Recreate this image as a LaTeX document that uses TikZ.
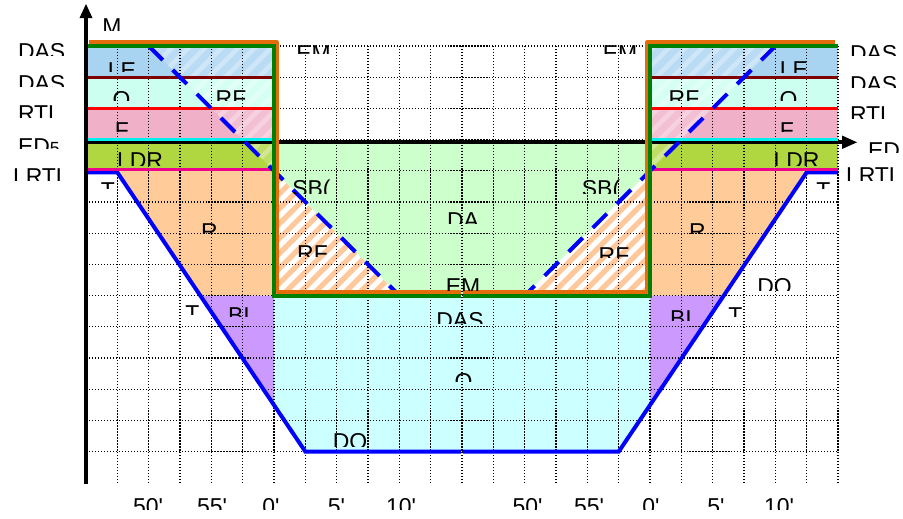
\documentclass[tikz,border=0pt]{standalone}
\usepackage{fontspec}
\setmainfont{Liberation Sans}
\usetikzlibrary{patterns,patterns.meta,arrows.meta}
\definecolor{cLE}{RGB}{168,212,242}
\definecolor{cO}{RGB}{204,255,240}
\definecolor{cF}{RGB}{240,176,200}
\definecolor{cLDR}{RGB}{176,214,64}
\definecolor{cG}{RGB}{204,255,204}
\definecolor{cR}{RGB}{255,204,153}
\definecolor{cBI}{RGB}{204,153,255}
\definecolor{cC}{RGB}{204,255,255}
\definecolor{cH}{RGB}{255,200,155}
\definecolor{lDR}{RGB}{128,0,0}
\definecolor{lCy}{RGB}{0,240,240}
\definecolor{lGr}{RGB}{0,128,0}
\definecolor{lOr}{RGB}{228,108,10}
\tikzset{
 lab/.style={font=\fontsize{19.6}{20}\selectfont, inner sep=0pt, outer sep=0pt, text=black},
 gridl/.style={black, line width=1.1pt, dash pattern=on 1pt off 1.55pt},
 hline/.style={line width=2.6pt},
 bluel/.style={blue, line width=3.4pt},
 bluedash/.style={blue, line width=3.4pt, dash pattern=on 17pt off 12pt},
 greenl/.style={lGr, line width=3.4pt},
 orangel/.style={lOr, line width=2.6pt, line join=round},
 axisl/.style={black, line width=3.4pt},
 hatch/.style={pattern={Lines[angle=45,distance=9pt,line width=4.5pt]}, pattern color=cH},
 faint/.style={pattern={Lines[angle=45,distance=10pt,line width=4pt]}, pattern color=white, opacity=0.3},
}
\newcommand\clab[6]{\begin{scope}\clip (#2-70,#3-12) rectangle (#2+70,#4);\node[lab,anchor=#5] (#1) at (#2,#3+16.5) {#6};\end{scope}}
\begin{document}
\begin{tikzpicture}[x=0.03cm,y=-0.03cm]
\useasboundingbox (0,0) rectangle (903,518);
\fill[white] (0,0) rectangle (903,518);
\begin{scope}[shift={(2.58cm,-1.38cm)},x=0.94cm,y=-0.936cm]
 % band fills of the two side blocks
 \foreach \a/\b in {0/6,18/24}{
  \fill[cLE] (\a,0) rectangle (\b,1);
  \fill[cO] (\a,1) rectangle (\b,2);
  \fill[cF] (\a,2) rectangle (\b,3);
  \fill[cLDR] (\a,3) rectangle (\b,4);
 }
 % faint overlay beside the dashed lines
 \fill[white,opacity=0.2] (2,0) -- (6,0) -- (6,4) -- cycle;
 \fill[faint] (2,0) -- (6,0) -- (6,4) -- cycle;
 \fill[white,opacity=0.2] (22,0) -- (18,0) -- (18,4) -- cycle;
 \fill[faint] (22,0) -- (18,0) -- (18,4) -- cycle;
 % central green area
 \fill[cG] (6,3) rectangle (18,8);
 % hatched triangles
 \fill[white] (6,4) -- (10,8) -- (6,8) -- cycle;
 \fill[hatch] (6,4) -- (10,8) -- (6,8) -- cycle;
 \fill[white] (18,4) -- (14,8) -- (18,8) -- cycle;
 \fill[hatch] (18,4) -- (14,8) -- (18,8) -- cycle;
 % orange, purple, cyan regions
 \fill[cR] (1,4) -- (6,4) -- (6,8) -- (11/3,8) -- cycle;
 \fill[cR] (23,4) -- (18,4) -- (18,8) -- (61/3,8) -- cycle;
 \fill[cBI] (11/3,8) -- (6,8) -- (6,11.5) -- cycle;
 \fill[cBI] (61/3,8) -- (18,8) -- (18,11.5) -- cycle;
 \fill[cC] (6,8) -- (18,8) -- (18,11.5) -- (17,13) -- (7,13) -- (6,11.5) -- cycle;
 % dotted grid
 \foreach \c in {0,...,24} \draw[gridl] (\c,0) -- (\c,14);
 \foreach \r in {0,...,13} \draw[gridl] (0,\r) -- (24,\r);
 % blue outline of the lower region
 \draw[bluel] (0,4.05) -- (1,4.05) -- (7,13) -- (11.97,13);
 \draw[bluel] (12.03,13) -- (17,13) -- (23,4.05) -- (24,4.05);
 % coloured level lines
 \foreach \a/\b in {0/6,18/24}{
  \draw[hline,lDR] (\a,1) -- (\b,1);
  \draw[hline,red] (\a,2) -- (\b,2);
  \draw[hline,magenta] (\a,3.97) -- (\b,3.97);
 }
\end{scope}
% x axis
\draw[axisl] (84,142.3) -- (842,142.3);
\fill[black] (857,142.3) -- (842,135.5) -- (842,149) -- cycle;
\begin{scope}[shift={(2.58cm,-1.38cm)},x=0.94cm,y=-0.936cm]
 \foreach \a/\b in {0/6,18/24} \draw[hline,lCy] (\a,3) -- (\b,3);
 % dashed blue lines
 \draw[bluedash] (2,0) -- (10,8);
 \draw[bluedash] (22,0) -- (14,8);
\end{scope}
% orange outline
\draw[orangel] (89,42) -- (277,42) -- (277,292) -- (461,292);
\draw[orangel] (463,292) -- (647,292) -- (647,42) -- (835,42);
% green outline
\begin{scope}[shift={(2.58cm,-1.38cm)},x=0.94cm,y=-0.936cm]
 \draw[greenl] (0,0) -- (6,0) -- (6,8) -- (11.97,8);
 \draw[greenl] (12.03,8) -- (18,8) -- (18,0) -- (24,0);
\end{scope}
% y axis
\draw[axisl] (86,484) -- (86,17);
\fill[black] (86,4) -- (79.5,18) -- (92.5,18) -- cycle;
% labels
\clab{M}{112}{18}{30}{base}{M}
\clab{lDASa}{18}{43.3}{55}{base west}{DAS}
\clab{lDASb}{18}{75}{86.7}{base west}{DAS}
\clab{lRTL}{18}{105}{117.7}{base west}{RTL}
\clab{lED}{18}{137.7}{148.3}{base west}{ED{\fontsize{15}{15}\selectfont 5}}
\clab{lLRTL}{13}{168.3}{180}{base west}{LRTL}
\clab{rDASa}{850}{45}{55}{base west}{DAS}
\clab{rDASb}{850}{76}{87.5}{base west}{DAS}
\clab{rRTL}{850}{106}{118}{base west}{RTL}
\clab{rED}{868}{141.7}{152}{base west}{ED}
\clab{rLRTL}{846}{166.7}{180}{base west}{LRTL}
\clab{LEl}{122}{61.7}{71.7}{base}{LE}
\clab{Ol}{121.5}{90.7}{100}{base}{O}
\clab{RFl}{231}{90}{100}{base}{RF}
\clab{Fl}{122}{121.7}{131.7}{base}{F}
\clab{LDRl}{140}{151.7}{165}{base}{LDR}
\clab{LEr}{794}{61}{72}{base}{LE}
\clab{RFr}{684}{90}{100}{base}{RF}
\clab{Or}{788.5}{90.7}{100}{base}{O}
\clab{Fr}{787}{121.7}{131.7}{base}{F}
\clab{LDRr}{796.5}{152}{165}{base}{LDR}
\clab{EMtl}{313.5}{45}{53.3}{base}{EM}
\clab{EMtr}{620}{45}{53.3}{base}{EM}
\clab{SBl}{311.5}{180}{193}{base}{SB(}
\clab{SBr}{601}{180}{193}{base}{SB(}
\clab{Tla}{108}{181.7}{188.3}{base}{T}
\clab{Tra}{823.5}{181.7}{188.3}{base}{T}
\clab{Rl}{209.5}{223}{233}{base}{R}
\clab{Rr}{697.5}{223}{233}{base}{R}
\clab{DA}{463}{211.7}{223}{base}{DA}
\clab{RFlb}{312.5}{245}{256.7}{base}{RF}
\clab{RFrb}{614}{247}{257}{base}{RF}
\clab{EMc}{463}{278}{290}{base}{EM}
\clab{DOr}{774.5}{278}{290}{base}{DO}
\clab{Tlb}{192.5}{305}{314}{base}{T}
\clab{Trb}{735.5}{306.7}{316}{base}{T}
\clab{BIl}{239}{306.7}{316.7}{base}{BI}
\clab{BIr}{681}{310}{320}{base}{BI}
\clab{DASc}{460}{311.7}{323}{base}{DAS}
\clab{Oc}{463.5}{373}{381.7}{base}{O}
\clab{DOl}{350}{433}{446.7}{base}{DO}
\clab{ba}{148}{498}{509}{base}{50\textquotesingle}
\clab{bb}{212}{498}{509}{base}{55\textquotesingle}
\clab{bc}{271}{498}{509}{base}{0\textquotesingle}
\clab{bd}{336.5}{498}{509}{base}{5\textquotesingle}
\clab{be}{401}{498}{509}{base}{10\textquotesingle}
\clab{bf}{527.5}{498}{509}{base}{50\textquotesingle}
\clab{bg}{589}{498}{509}{base}{55\textquotesingle}
\clab{bh}{651}{498}{509}{base}{0\textquotesingle}
\clab{bi}{716}{498}{509}{base}{5\textquotesingle}
\clab{bj}{779}{498}{509}{base}{10\textquotesingle}
\end{tikzpicture}
\end{document}
